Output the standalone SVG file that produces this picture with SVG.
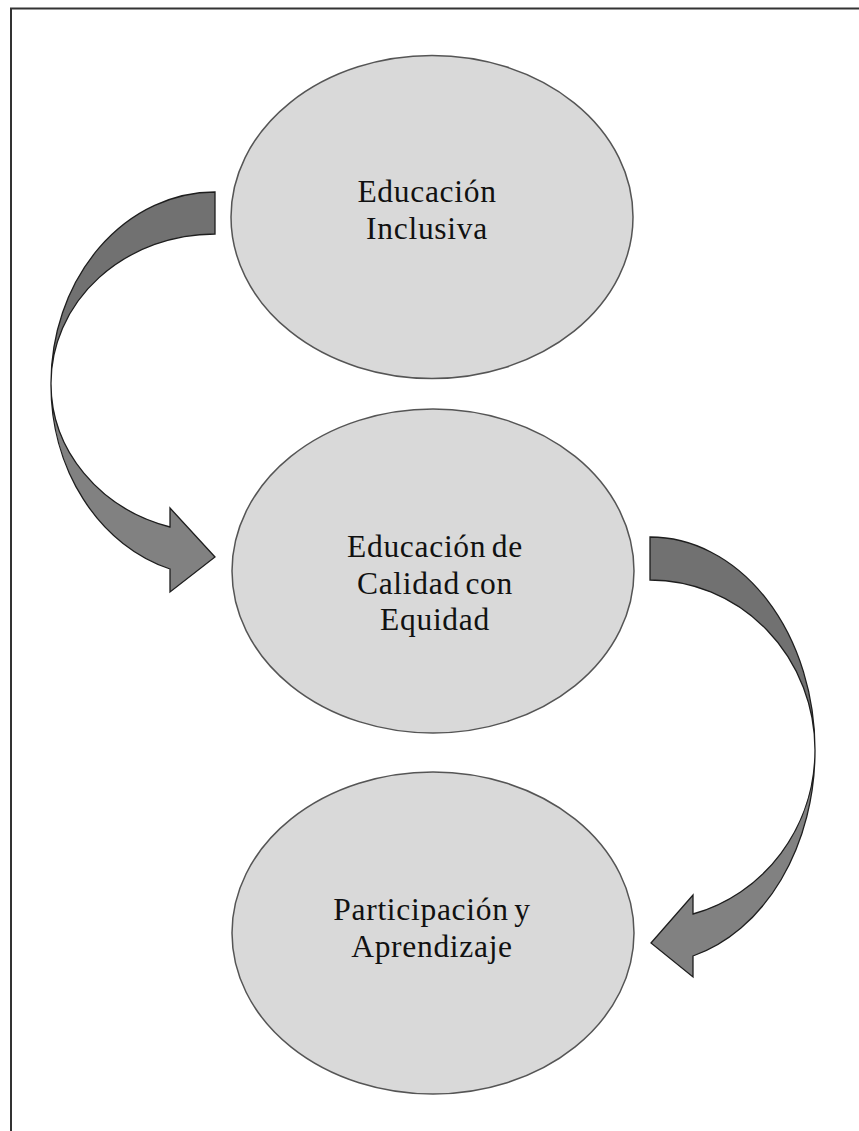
<svg xmlns="http://www.w3.org/2000/svg" width="859" height="1131" viewBox="0 0 859 1131">
<style>
.node ellipse{fill:#d9d9d9;stroke:#555;stroke-width:1.5}
.node text{font-family:"Liberation Serif","Times New Roman",serif;font-size:31.5px;letter-spacing:0.7px;word-spacing:-3px;fill:#111;text-anchor:middle}
.back{fill:#717171;stroke:#1e1e1e;stroke-width:1.3;stroke-linejoin:miter}
.front{fill:#818181;stroke:#1e1e1e;stroke-width:1.3;stroke-linejoin:miter}
</style>
<rect x="0" y="0" width="859" height="1131" fill="#fff"/>
<rect x="11" y="8.5" width="900" height="1200" fill="none" stroke="#333" stroke-width="2"/>
<g id="connectors">
<g id="arrow1">
<path class="back" d="M215,192 L215,234 A164,149 0 0 0 51,383 A164,191 0 0 1 215,192 Z"/>
<path class="front" d="M51,383 A164,149 0 0 0 170,527 L170,508 L215,557 L170,592 L170,569 A164,191 0 0 1 51,383 Z"/>
</g>
<g id="arrow2">
<path class="back" d="M650,537 L650,580 A165,170 0 0 1 815,750 A165,213 0 0 0 650,537 Z"/>
<path class="front" d="M815,750 A165,170 0 0 1 693,914 L693,895 L651,943 L693,977 L693,956 A165,213 0 0 0 815,750 Z"/>
</g>
</g>
<g id="node1" class="node">
<ellipse cx="432" cy="217" rx="201" ry="161.5"/>
<text x="427" y="202">Educación</text>
<text x="427" y="238.5">Inclusiva</text>
</g>
<g id="node2" class="node">
<ellipse cx="433" cy="571" rx="201" ry="162"/>
<text x="435" y="557">Educación de</text>
<text x="435" y="593.5">Calidad con</text>
<text x="435" y="630">Equidad</text>
</g>
<g id="node3" class="node">
<ellipse cx="433" cy="933" rx="201" ry="161"/>
<text x="432" y="920">Participación y</text>
<text x="432" y="956.5">Aprendizaje</text>
</g>
</svg>
